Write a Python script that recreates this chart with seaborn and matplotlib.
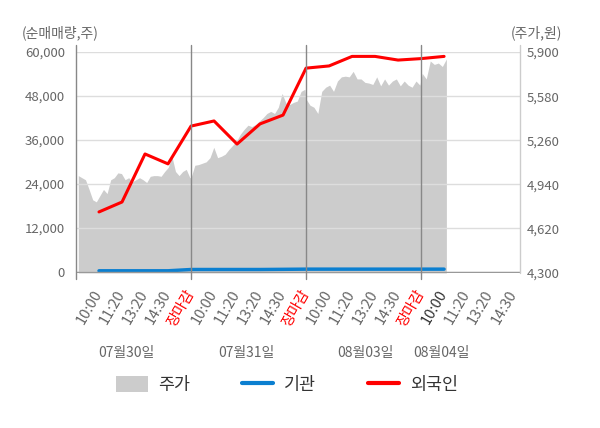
import numpy as np
import matplotlib
matplotlib.use("Agg")
import matplotlib.pyplot as plt
import matplotlib.transforms as mtransforms
from matplotlib.patches import Patch
from matplotlib.lines import Line2D
import seaborn as sns

# 주가 (원) - 일자별 장중 흐름
price_0730 = [5005, 4990, 4975, 4905, 4830, 4815, 4860, 4905, 4875, 4975, 4990, 5025,
              5020, 4975, 4990, 4960, 4975, 4990, 4975, 4955, 5000, 5005, 5005, 5000,
              5035, 5065, 5145, 5035, 5005, 5035, 5050, 4990]
price_0731 = [4990, 5080, 5085, 5095, 5105, 5135, 5210, 5135, 5145, 5160, 5195, 5225,
              5255, 5305, 5340, 5370, 5360, 5375, 5400, 5425, 5455, 5470, 5455, 5500,
              5600, 5530, 5520, 5535, 5545, 5615, 5630]
price_0803 = [5560, 5515, 5500, 5455, 5615, 5645, 5660, 5615, 5690, 5720, 5725, 5720,
              5760, 5705, 5705, 5680, 5675, 5665, 5720, 5655, 5705, 5660, 5690, 5705,
              5655, 5690, 5660, 5645, 5690, 5660]
price_0804 = [5745, 5705, 5835, 5810, 5820, 5795, 5850]

# 순매매량 (주) - 시간대별 누적
foreign = [16400, 19100, 32200, 29500, 39800, 41200, 34900, 40400, 42800, 55600,
           56200, 58800, 58800, 57800, 58200, 58800]
institution = [350, 350, 350, 350, 700, 700, 700, 700, 750, 800,
               800, 800, 800, 800, 800, 800]

time_labels = ["10:00", "11:20", "13:20", "14:30", "장마감"] * 3 + ["10:00", "11:20", "13:20", "14:30"]
dates = ["07월30일", "07월31일", "08월03일", "08월04일"]
date_pos = [2.17, 7.39, 12.6, 15.87]

left_ticks = [0, 12000, 24000, 36000, 48000, 60000]
right_ticks = [4300, 4620, 4940, 5260, 5580, 5900]

sns.set_theme(style="white")
plt.rcParams['font.family'] = ['Noto Sans CJK KR', 'DejaVu Sans']

# x 위치: 하루 = 5칸
px = np.concatenate([
    np.linspace(0.1, 4.95, len(price_0730)),
    np.linspace(5.0, 9.95, len(price_0731)),
    np.linspace(10.0, 14.95, len(price_0803)),
    np.linspace(15.05, 16.1, len(price_0804)),
])
price = np.array(price_0730 + price_0731 + price_0803 + price_0804)
fx = np.arange(1, len(foreign) + 1)

fig = plt.figure(figsize=(6, 4.28), dpi=100)
ax = fig.add_axes([76 / 600, 1 - 273 / 428, 444 / 600, 221 / 428])
ax2 = ax.twinx()
ax.set_zorder(ax2.get_zorder() + 1)
ax.patch.set_visible(False)
ax2.patch.set_facecolor('#f4f4f4')

# 주가 영역
ax2.fill_between(px, 4300, price, color='#cccccc', linewidth=0)
ax2.set_ylim(4300, 5900)
ax2.set_yticks(right_ticks)
ax2.set_yticklabels([f"{v:,}" for v in right_ticks])
ax2.tick_params(axis='y', length=0, pad=5, labelcolor='#666666', labelsize=9.5)

# 순매매량 라인
sns.lineplot(x=fx, y=institution, ax=ax, color='#0b7fd0', linewidth=2.5)
sns.lineplot(x=fx, y=foreign, ax=ax, color='#ff0000', linewidth=2.2)

ax.set_xlim(0, 19.3)
ax.set_ylim(-250, 60000)
ax.set_yticks(left_ticks)
ax.set_yticklabels([f"{v:,}" for v in left_ticks])
ax.tick_params(axis='y', length=0, pad=8, labelcolor='#666666', labelsize=9.5)
ax.grid(axis='y', color='#dddddd', linewidth=1)
ax.grid(axis='x', visible=False)
ax.axhline(0, color='#999999', linewidth=1)

ax.set_xticks(range(1, len(time_labels) + 1))
ax.set_xticklabels(time_labels, rotation=60, ha='right', va='center', rotation_mode='anchor')
ax.tick_params(axis='x', length=0, pad=13, labelsize=10.5)
for i, lab in enumerate(ax.get_xticklabels()):
    if lab.get_text() == "장마감":
        lab.set_color('#ff0000')
    elif i == 15:
        lab.set_color('#333333')
    else:
        lab.set_color('#666666')

for s in list(ax.spines.values()) + list(ax2.spines.values()):
    s.set_visible(False)

# 일자 구분선
for xv in [0, 5, 10, 15]:
    ax.axvline(xv, ymin=-0.025, ymax=1.03, color='#888888', linewidth=1, clip_on=False)
ax.axvline(19.3, ymin=0, ymax=1.03, color='#cccccc', linewidth=1, clip_on=False)

trans = mtransforms.blended_transform_factory(ax.transData, fig.transFigure)
for d, xp in zip(dates, date_pos):
    ax.text(xp, 1 - 353 / 428, d, transform=trans, ha='center', va='center',
            fontsize=10, color='#666666')

fig.text(22 / 600, 1 - 33 / 428, "(순매매량,주)", ha='left', va='center', fontsize=10, color='#666666')
fig.text(562 / 600, 1 - 33 / 428, "(주가,원)", ha='right', va='center', fontsize=10, color='#666666')

handles = [Patch(facecolor='#cccccc', edgecolor='none'),
           Line2D([], [], color='#0b7fd0', linewidth=3),
           Line2D([], [], color='#ff0000', linewidth=3)]
fig.legend(handles, ["주가", "기관", "외국인"], loc='center', bbox_to_anchor=(287 / 600, 1 - 385 / 428),
           ncol=3, frameon=False, fontsize=12.5, handlelength=1.8, handleheight=1.0,
           columnspacing=3.0, handletextpad=0.6, labelcolor='#333333')

fig.savefig("out.png", dpi=100)
